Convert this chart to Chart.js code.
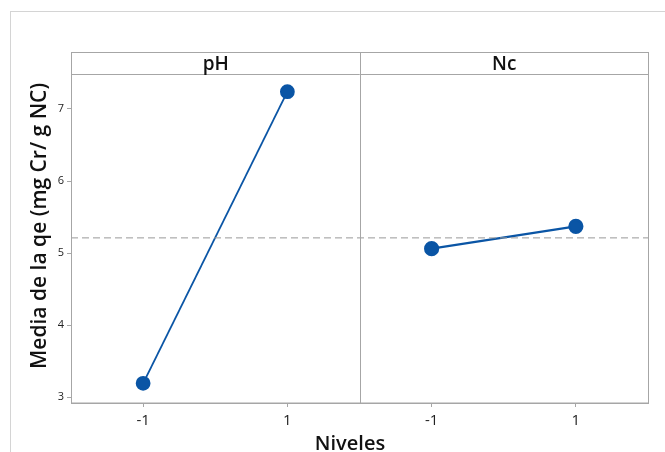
<!DOCTYPE html>
<html>
<head>
<meta charset="utf-8">
<script src="https://cdn.jsdelivr.net/npm/chart.js@4.4.0/dist/chart.umd.min.js"></script>
<style>
  html, body { margin: 0; padding: 0; background: #fff; }
  #wrap { width: 665px; height: 452px; position: relative; }
</style>
</head>
<body>
<div id="wrap"><canvas id="efectos" width="665" height="452"></canvas></div>
<script>
// datos
const factores = ["pH", "Nc"];
const niveles = ["-1", "1"];
const mediasPH = [3.19, 7.24];
const mediasNc = [5.06, 5.37];
const mediaGeneral = 5.21;
const ticksY = [3, 4, 5, 6, 7];
const tituloY = "Media de la qe (mg Cr/ g NC)";
const tituloX = "Niveles";

const azul = "#0a55a5";
const gris = "#a6a6a6";

// cada panel ocupa 4 unidades en x: pH de -2 a 2, Nc de 2 a 6
function puntos(medias, desplaz) {
  return niveles.map((n, i) => ({ x: parseFloat(n) + desplaz, y: medias[i] }));
}

const paneles = {
  id: "paneles",
  beforeDraw(chart) {
    const ctx = chart.ctx;
    // marco exterior
    ctx.save();
    ctx.strokeStyle = "#d4d4d4";
    ctx.lineWidth = 1;
    ctx.strokeRect(10.5, 11.5, 700, 500);
    ctx.restore();
  },
  afterDraw(chart) {
    const ctx = chart.ctx;
    const a = chart.chartArea;
    const xs = chart.scales.x;
    const div = Math.round(xs.getPixelForValue(2)) + 0.5;
    const top = 52.5;
    ctx.save();
    ctx.strokeStyle = gris;
    ctx.lineWidth = 1;
    ctx.strokeRect(Math.round(a.left) + 0.5, top, Math.round(a.right - a.left), Math.round(a.bottom) - top);
    ctx.beginPath();
    ctx.moveTo(Math.round(a.left), Math.round(a.top) + 0.5);
    ctx.lineTo(Math.round(a.right), Math.round(a.top) + 0.5);
    ctx.moveTo(div, top);
    ctx.lineTo(div, Math.round(a.bottom));
    ctx.stroke();

    // cabeceras de panel
    ctx.fillStyle = "#111";
    ctx.font = "600 19px 'Open Sans'";
    ctx.textAlign = "center";
    ctx.textBaseline = "alphabetic";
    ctx.fillText(factores[0], (a.left + div) / 2, 70);
    ctx.fillText(factores[1], (div + a.right) / 2, 70);

    // titulos de ejes
    ctx.font = "600 20px 'Open Sans'";
    ctx.fillText(tituloX, 350, 450);
    ctx.translate(46, 226);
    ctx.rotate(-Math.PI / 2);
    ctx.font = "600 21px 'Open Sans'";
    ctx.fillText(tituloY, 0, 0);
    ctx.restore();
  }
};

new Chart(document.getElementById("efectos"), {
  type: "line",
  data: {
    datasets: [
      {
        label: "media",
        data: [{ x: -2, y: mediaGeneral }, { x: 6, y: mediaGeneral }],
        borderColor: "#999",
        borderWidth: 1,
        borderDash: [7, 4],
        pointRadius: 0
      },
      {
        label: factores[0],
        data: puntos(mediasPH, 0),
        borderColor: azul,
        backgroundColor: azul,
        borderWidth: 1.8,
        pointRadius: 6.5
      },
      {
        label: factores[1],
        data: puntos(mediasNc, 4),
        borderColor: azul,
        backgroundColor: azul,
        borderWidth: 2.2,
        pointRadius: 6.5
      }
    ]
  },
  options: {
    responsive: false,
    animation: false,
    layout: { padding: { left: 0, right: 17, top: 74, bottom: 0 } },
    plugins: { legend: { display: false }, tooltip: { enabled: false } },
    scales: {
      x: {
        type: "linear",
        min: -2,
        max: 6,
        afterBuildTicks: s => { s.ticks = [-1, 1, 3, 5].map(v => ({ value: v })); },
        afterFit: s => { s.height = 49; },
        ticks: {
          callback: (v, i) => niveles[i % 2],
          color: "#222",
          font: { family: "'Open Sans'", size: 15 },
          padding: 5
        },
        grid: { drawOnChartArea: false, tickLength: 4, color: gris },
        border: { color: gris }
      },
      y: {
        min: 2.917,
        max: 7.486,
        afterBuildTicks: s => { s.ticks = ticksY.map(v => ({ value: v })); },
        afterFit: s => { s.width = 71; },
        ticks: {
          color: "#222",
          font: { family: "'Open Sans'", size: 11 },
          padding: 3
        },
        grid: { drawOnChartArea: false, tickLength: 4, color: gris },
        border: { color: gris }
      }
    }
  },
  plugins: [paneles]
});
</script>
</body>
</html>
